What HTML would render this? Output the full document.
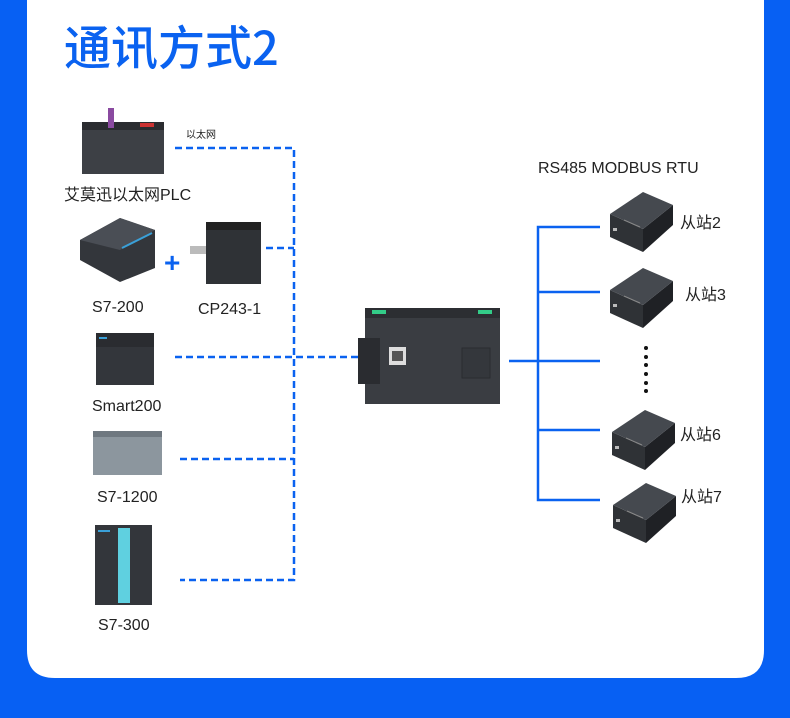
<!DOCTYPE html>
<html><head><meta charset="utf-8"><style>
html,body{margin:0;padding:0;background:#0760f3;}
svg{display:block}
text{font-family:"Liberation Sans","Noto Sans CJK SC",sans-serif;fill:#222}
</style></head><body>
<svg width="790" height="718" viewBox="0 0 790 718" xmlns="http://www.w3.org/2000/svg">
<defs>
<g id="slave">
<polygon points="0,22 33,37 33,60 0,45" fill="#2f3236"/>
<polygon points="33,37 63,13 63,33 33,60" fill="#1f2125"/>
<polygon points="0,22 33,0 63,13 33,37" fill="#45494f"/>
<line x1="14" y1="28" x2="30" y2="35" stroke="#888" stroke-width="1"/>
<rect x="3" y="36" width="4" height="3" fill="#bbb"/>
</g>
</defs>
<rect x="0" y="0" width="790" height="718" fill="#0760f3"/>
<path d="M27 0 H764 V650 Q764 678 736 678 H55 Q27 678 27 650 Z" fill="#fff"/>
<text x="64" y="65" font-size="47" style="fill:#0a62f0;font-family:'Noto Sans CJK SC','Liberation Sans',sans-serif" font-weight="500">通讯方式2</text>

<g stroke="#0a62f0" stroke-width="2.5" stroke-dasharray="7,4" fill="none">
<path d="M175 148 H294 V580 H180"/>
<path d="M266 248 H294"/>
<path d="M175 357 H400"/>
<path d="M180 459 H294"/>
</g>
<text x="186" y="138" font-size="10">以太网</text>

<g stroke="#0a62f0" stroke-width="2.5" fill="none">
<path d="M600 227 H538 V500 H600"/>
<path d="M538 292 H600"/>
<path d="M509 361 H600"/>
<path d="M538 430 H600"/>
</g>

<rect x="82" y="122" width="82" height="52" fill="#3d4045"/>
<rect x="82" y="122" width="82" height="8" fill="#2a2c30"/>
<rect x="108" y="108" width="6" height="20" fill="#8a4aa0"/>
<rect x="140" y="123" width="14" height="4" fill="#c33"/>
<text x="64" y="200" font-size="16">艾莫迅以太网PLC</text>

<polygon points="80,240 120,218 155,230 155,268 120,282 80,260" fill="#33363b"/>
<polygon points="80,240 120,218 155,230 120,250" fill="#4a4e55"/>
<line x1="122" y1="248" x2="152" y2="233" stroke="#3aa0d8" stroke-width="2"/>
<text x="164" y="272" font-size="28" style="fill:#0a62f0" font-weight="bold">+</text>
<text x="92" y="312" font-size="16">S7-200</text>

<rect x="206" y="222" width="55" height="62" fill="#2f3236"/>
<rect x="206" y="222" width="55" height="8" fill="#222"/>
<rect x="190" y="246" width="16" height="8" fill="#bbb"/>
<text x="198" y="314" font-size="16">CP243-1</text>

<rect x="96" y="333" width="58" height="52" fill="#33363b"/>
<rect x="96" y="333" width="58" height="14" fill="#2a2c30"/>
<rect x="99" y="337" width="8" height="2" fill="#3aa0d8"/>
<text x="92" y="411" font-size="16">Smart200</text>

<rect x="93" y="431" width="69" height="44" fill="#8c969e"/>
<rect x="93" y="431" width="69" height="6" fill="#6f7880"/>
<text x="97" y="502" font-size="16">S7-1200</text>

<rect x="95" y="525" width="57" height="80" fill="#33363b"/>
<rect x="118" y="528" width="12" height="75" fill="#5fd0e0"/>
<rect x="98" y="530" width="12" height="2" fill="#3aa0d8"/>
<text x="98" y="630" font-size="16">S7-300</text>

<rect x="365" y="308" width="135" height="96" fill="#3a3d42"/>
<rect x="365" y="308" width="135" height="10" fill="#2c2e32"/>
<rect x="372" y="310" width="14" height="4" fill="#3c8"/>
<rect x="478" y="310" width="14" height="4" fill="#3c8"/>
<rect x="358" y="338" width="22" height="46" fill="#2a2c30"/>
<rect x="389" y="347" width="17" height="18" fill="#ddd"/>
<rect x="392" y="351" width="11" height="10" fill="#555"/>
<rect x="462" y="348" width="28" height="30" fill="#34373c" stroke="#2a2c30"/>

<text x="538" y="173" font-size="16">RS485 MODBUS RTU</text>
<use href="#slave" x="610" y="192"/>
<text x="680" y="228" font-size="16">从站2</text>
<use href="#slave" x="610" y="268"/>
<text x="685" y="300" font-size="16">从站3</text>
<g fill="#111">
<circle cx="646" cy="348" r="2"/><circle cx="646" cy="357" r="2"/><circle cx="646" cy="365" r="2"/>
<circle cx="646" cy="374" r="2"/><circle cx="646" cy="383" r="2"/><circle cx="646" cy="391" r="2"/>
</g>
<use href="#slave" x="612" y="410"/>
<text x="680" y="440" font-size="16">从站6</text>
<use href="#slave" x="613" y="483"/>
<text x="681" y="502" font-size="16">从站7</text>
</svg>
</body></html>
